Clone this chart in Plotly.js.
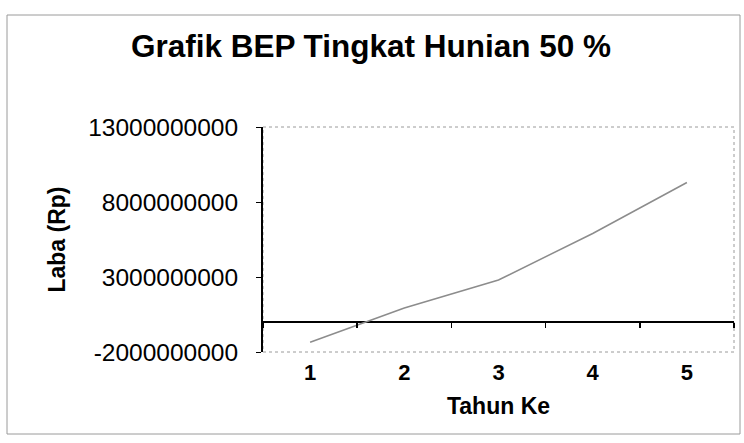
<!DOCTYPE html>
<html>
<head>
<meta charset="utf-8">
<script src="https://cdn.plot.ly/plotly-3.0.1.min.js"></script>
<style>html,body{margin:0;padding:0;background:#fff;}#chart{width:744px;height:443px;}</style>
</head>
<body>
<div id="chart"></div>
<script>
const years = ['1', '2', '3', '4', '5'];
const laba = [-1350000000, 930000000, 2800000000, 5900000000, 9300000000];
const yTicks = [-2000000000, 3000000000, 8000000000, 13000000000];
const yTickLabels = ['-2000000000', '3000000000', '8000000000', '13000000000'];

const data = [
  {x: years, y: laba, type: 'scatter', mode: 'lines', line: {color: '#8c8c8c', width: 1.5}, hoverinfo: 'skip', showlegend: false},
  {x: years, y: laba, type: 'scatter', mode: 'none', xaxis: 'x2', hoverinfo: 'skip', showlegend: false}
];

const layout = {
  width: 744, height: 443,
  margin: {l: 263, r: 10, t: 127, b: 91},
  paper_bgcolor: '#ffffff', plot_bgcolor: '#ffffff',
  font: {family: 'Arial, Liberation Sans, sans-serif', color: '#000'},
  title: {text: '<b>Grafik BEP Tingkat Hunian 50 %</b>', font: {size: 31.5, color: '#000'}, x: 371 / 744, xref: 'container', xanchor: 'center', y: 0.897, yanchor: 'middle', yref: 'container'},
  xaxis: {
    type: 'category', range: [-0.5, 4.5], showgrid: false, zeroline: false, showline: false,
    ticks: 'outside', ticklen: 1, tickcolor: 'rgba(0,0,0,0)',
    tickfont: {size: 22, color: '#000', weight: 'bold'},
    title: {text: '<b>Tahun Ke</b>', font: {size: 23, color: '#000'}, standoff: 13}
  },
  xaxis2: {
    type: 'category', overlaying: 'x', anchor: 'free', position: 2/15, range: [-0.5, 4.5],
    showgrid: false, zeroline: false, showline: false, showticklabels: false,
    ticks: 'outside', tickson: 'boundaries', ticklen: 5, tickwidth: 1.5, tickcolor: '#000'
  },
  yaxis: {
    range: [-2000000000, 13000000000], tickvals: yTicks, ticktext: yTickLabels,
    showgrid: false, zeroline: true, zerolinecolor: '#000', zerolinewidth: 2.5,
    showline: true, linecolor: '#000', linewidth: 2, mirror: false,
    ticks: 'outside', ticklen: 5, tickwidth: 1, tickcolor: '#000',
    ticklabelstandoff: 13,
    tickfont: {size: 24.5, color: '#000'},
    title: {text: '<b>Laba (Rp)</b>', font: {size: 23, color: '#000'}, standoff: 16}
  },
  shapes: [
    {type: 'rect', xref: 'paper', yref: 'paper', x0: 0, x1: 1, y0: 0, y1: 1, line: {color: '#9a9a9a', width: 1, dash: 'dot'}, layer: 'below'},
    {type: 'rect', xref: 'paper', yref: 'paper', x0: (7 - 263) / 471, x1: (740 - 263) / 471, y0: (352 - 434) / 225, y1: (352 - 15) / 225, line: {color: '#9a9a9a', width: 1}, layer: 'below'}
  ]
};

Plotly.newPlot('chart', data, layout, {displayModeBar: false, staticPlot: true});
</script>
</body>
</html>
